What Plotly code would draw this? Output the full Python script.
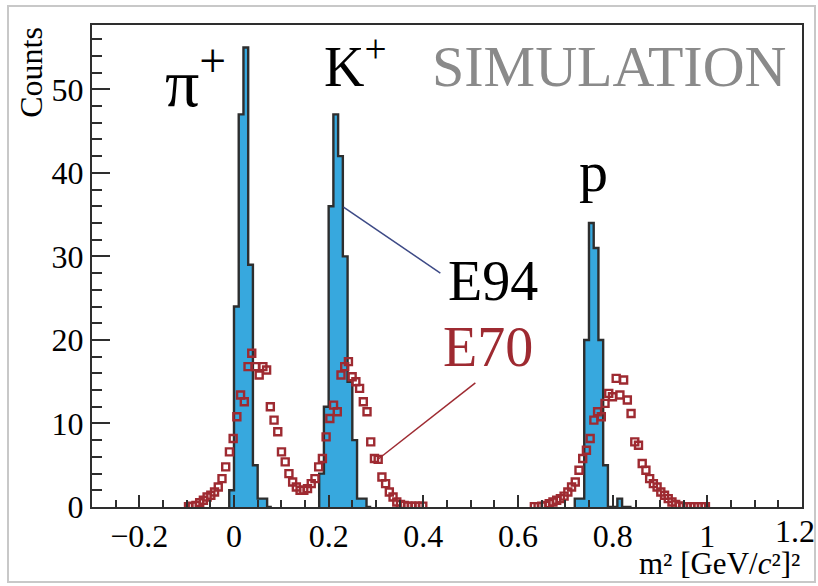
import plotly.graph_objects as go

# ---------------- data ----------------
# E94 simulated histogram (bin width 0.01), listed by lower bin edge
e94_edges = [-0.01, 0.00, 0.01, 0.02, 0.03, 0.04, 0.05, 0.06, 0.07,
             0.18, 0.19, 0.20, 0.21, 0.22, 0.23, 0.24, 0.25, 0.26, 0.27, 0.28,
             0.72, 0.73, 0.74, 0.75, 0.76, 0.77, 0.78, 0.79, 0.80, 0.81, 0.82, 0.83]
e94_counts = [2, 24, 47, 55, 29, 5, 1, 1, 0,
              4, 12, 36, 47, 42, 30, 15, 8, 1, 1, 0,
              1, 1, 20, 34, 31, 20, 5, 0, 0, 1, 0, 0]

# E70 histogram: range -0.1..1.0, 140 bins
e70_start = -0.1
e70_stop = 1.0
e70_nbins = 140
e70_counts = [
    0.05, 0.1, 0.2, 0.5, 0.8, 1.2, 1.4, 1.8, 2.4, 3.4,
    4.8, 6.6, 8.2, 10.8, 13.4, 12.6, 16.8, 18.4, 16.8, 15.8,
    16.8, 16.4, 12.0, 10.4, 9.0, 6.6, 5.4, 4.0, 3.0, 2.4,
    2.0, 2.0, 2.2, 2.8, 3.4, 4.8, 5.8, 8.4, 10.6, 12.2,
    11.4, 15.8, 16.8, 17.4, 15.6, 15.0, 14.2, 12.6, 11.4, 7.8,
    5.8, 5.7, 3.6, 2.8, 1.8, 1.2, 0.6, 0.3, 0.2, 0.1,
    0.1, 0.1, 0.1, 0.1, 0, 0, 0, 0, 0, 0,
    0, 0, 0, 0, 0, 0, 0, 0, 0, 0,
    0, 0, 0, 0, 0, 0, 0, 0, 0, 0,
    0, 0, 0, 0.05, 0.05, 0.1, 0.2, 0.4, 0.6, 0.8,
    1.0, 1.3, 1.8, 2.4, 3.0, 4.4, 5.8, 6.8, 8.2, 10.4,
    11.4, 10.8, 12.4, 13.6, 13.2, 15.4, 13.4, 15.2, 12.8, 11.2,
    7.8, 7.4, 5.2, 4.4, 3.4, 2.8, 2.4, 1.8, 1.4, 1.0,
    0.6, 0.3, 0.12, 0.05, 0.05, 0.05, 0.05, 0.05, 0.05, 0.05,
]

x_range = [-0.3, 1.2001]
y_range = [0, 57.7]
x_ticks = [-0.2, 0, 0.2, 0.4, 0.6, 0.8, 1, 1.2]
x_ticklabels = ["\u22120.2", "0", "0.2", "0.4", "0.6", "0.8", "1", ""]
x_last_label = "1.2"
y_ticks = [0, 10, 20, 30, 40, 50]

# ---------------- build ----------------
BLUE = "#37a8de"
DARK = "#2e2e2e"
RED = "#9e2a31"
FONT = "Liberation Serif, Times New Roman, serif"

fig = go.Figure()

# E94 histogram as step outline; split into contiguous groups
groups = []
cur_x, cur_y = [], []
bw = 0.01
prev_edge = None
for e, c in zip(e94_edges, e94_counts):
    if prev_edge is not None and abs(e - prev_edge - bw) > 1e-6:
        groups.append((cur_x, cur_y))
        cur_x, cur_y = [], []
    cur_x.append(e)
    cur_y.append(c)
    prev_edge = e
groups.append((cur_x, cur_y))

for gx, gy in groups:
    xs = [gx[0]] + gx + [gx[-1] + bw]
    ys = [0] + gy + [0]
    fig.add_trace(go.Scatter(
        x=xs, y=ys, mode="lines", line=dict(shape="hv", color=DARK, width=2.4),
        fill="tozeroy", fillcolor=BLUE, hoverinfo="skip", showlegend=False))

# E70 points
w70 = (e70_stop - e70_start) / e70_nbins
e70_x, e70_y = [], []
for i, c in enumerate(e70_counts):
    if c > 0:
        e70_x.append(e70_start + (i + 0.5) * w70)
        e70_y.append(c)
fig.add_trace(go.Scatter(
    x=e70_x, y=e70_y, mode="markers",
    marker=dict(symbol="square-open", size=7, color=RED, line=dict(width=2.4, color=RED)),
    showlegend=False, hoverinfo="skip"))

# lines to labels
fig.add_shape(type="line", x0=0.2314, y0=35.9, x1=0.436, y1=28.0,
              line=dict(color="#3d4a86", width=1.5))
fig.add_shape(type="line", x0=0.510, y0=14.85, x1=0.305, y1=5.75,
              line=dict(color=RED, width=1.5))

ann = []
def T(x, y, text, size, color="black", xanchor="center", yanchor="middle"):
    ann.append(dict(x=x, y=y, xref="x", yref="y", text=text, showarrow=False,
                    font=dict(family=FONT, size=size, color=color),
                    xanchor=xanchor, yanchor=yanchor))

T(-0.081, 51.4, "\u03c0<sup>+</sup>", 68)
T(0.257, 53.2, "K<sup>+</sup>", 56)
T(0.76, 40.2, "p", 58)
T(0.792, 52.7, "SIMULATION", 58, color="#8a8a8a")
T(0.548, 27.0, "E94", 56)
T(0.536, 19.2, "E70", 56, color=RED)

W, H = 818, 586
L, R, TOP, B = 92, 16, 25, 79
pw, ph = W - L - R, H - TOP - B

fig.update_layout(annotations=ann)
fig.add_annotation(x=(817 - L) / pw, y=-0.009, xref="paper", yref="paper", xanchor="right", yanchor="top",
                   text=x_last_label, showarrow=False,
                   font=dict(family=FONT, size=32, color="black"))
fig.add_annotation(x=1.0, y=-0.076, xref="paper", yref="paper", xanchor="right", yanchor="top",
                   text="m\u00b2 [GeV/<i>c</i>\u00b2]\u00b2", showarrow=False,
                   font=dict(family=FONT, size=31, color="black"))
fig.add_annotation(x=-0.087, y=1.0, xref="paper", yref="paper", xanchor="center", yanchor="top",
                   text="Counts", textangle=-90, showarrow=False,
                   font=dict(family=FONT, size=32, color="black"))

# outer border
def px2paper(px, py):
    return (px - L) / pw, (H - B - py) / ph
bx0, by0 = px2paper(8, 582)
bx1, by1 = px2paper(815, 6)
fig.add_shape(type="rect", xref="paper", yref="paper", x0=bx0, y0=by0, x1=bx1, y1=by1,
              line=dict(color="#c8c8c8", width=2), layer="below")

fig.update_layout(
    width=W, height=H, margin=dict(l=L, r=R, t=TOP, b=B),
    paper_bgcolor="white", plot_bgcolor="white",
    font=dict(family=FONT, color="black"),
    xaxis=dict(range=x_range, tickvals=x_ticks, ticktext=x_ticklabels,
               ticks="inside", ticklen=12, tickwidth=1.5, tickcolor=DARK,
               minor=dict(ticks="inside", dtick=0.05, ticklen=7, tickwidth=1.5, tickcolor=DARK, showgrid=False),
               showline=True, linecolor=DARK, linewidth=2, mirror=True,
               showgrid=False, zeroline=False,
               tickfont=dict(family=FONT, size=32)),
    yaxis=dict(range=y_range, tickvals=y_ticks,
               ticks="inside", ticklen=18, tickwidth=1.5, tickcolor=DARK,
               minor=dict(ticks="inside", dtick=2, ticklen=10, tickwidth=1.5, tickcolor=DARK, showgrid=False),
               showline=True, linecolor=DARK, linewidth=2, mirror=True,
               showgrid=False, zeroline=False,
               tickfont=dict(family=FONT, size=32)),
)

fig.write_html("out.html")
